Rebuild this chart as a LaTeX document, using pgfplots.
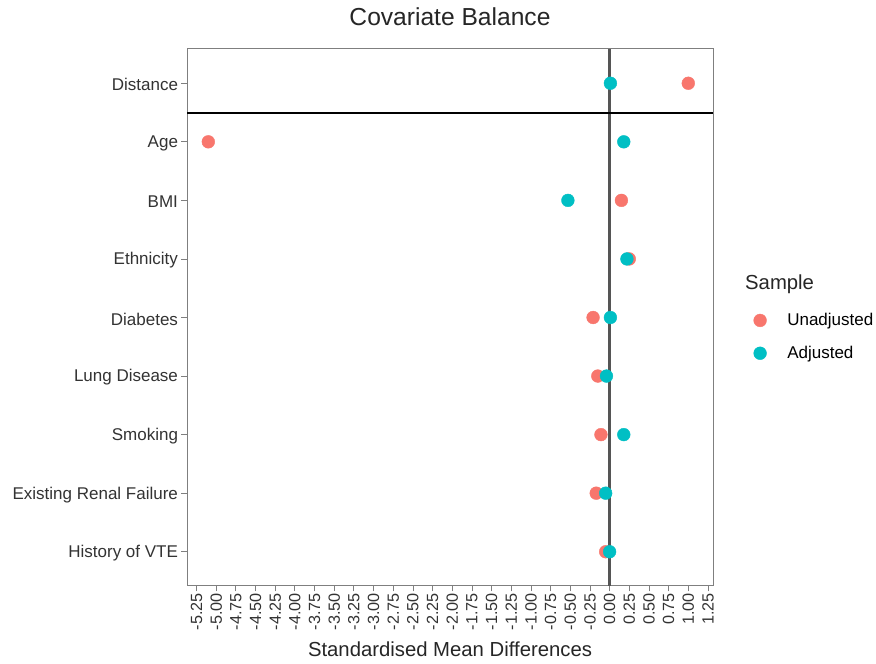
\documentclass[border=0pt]{standalone}
\usepackage{pgfplots}
\pgfplotsset{compat=1.18}
\usepackage{fontspec}
\setmainfont{Liberation Sans}
\definecolor{unadj}{HTML}{F8766D}
\definecolor{adj}{HTML}{00BFC4}
\definecolor{frame}{HTML}{7F7F7F}
\definecolor{zeroline}{HTML}{555555}
\begin{document}
\begin{tikzpicture}[x=1pt,y=1pt]
\path[fill=white,use as bounding box] (0,0) rectangle (876,664);
\begin{axis}[
  at={(187pt,78pt)}, anchor=south west,
  scale only axis, width=526pt, height=537pt,
  xmin=-5.371, xmax=1.314, ymin=0.415, ymax=9.585,
  xtick={-5.25,-5,-4.75,-4.5,-4.25,-4,-3.75,-3.5,-3.25,-3,-2.75,-2.5,-2.25,-2,-1.75,-1.5,-1.25,-1,-0.75,-0.5,-0.25,0,0.25,0.5,0.75,1,1.25},
  xticklabels={-5.25,-5.00,-4.75,-4.50,-4.25,-4.00,-3.75,-3.50,-3.25,-3.00,-2.75,-2.50,-2.25,-2.00,-1.75,-1.50,-1.25,-1.00,-0.75,-0.50,-0.25,0.00,0.25,0.50,0.75,1.00,1.25},
  ytick={1,...,9},
  yticklabels={History of VTE,Existing Renal Failure,Smoking,Lung Disease,Diabetes,Ethnicity,BMI,Age,Distance},
  xticklabel style={rotate=90, anchor=east, inner sep=1.5pt, font=\fontsize{16.2}{19}\selectfont, text=black!80},
  yticklabel style={font=\fontsize{17}{20}\selectfont, text=black!80, yshift=-1.5pt},
  tick align=outside, tick pos=left, major tick length=5.5pt,
  tick style={frame, line width=0.8pt},
  axis line style={frame, line width=1pt},
  title={Covariate Balance},
  title style={at={(axis description cs:0.5,1)}, anchor=base, yshift=17pt, font=\fontsize{24.6}{28}\selectfont, text=black!85},
  xlabel={Standardised Mean Differences},
  xlabel style={at={(axis description cs:0.5,0)}, anchor=base, yshift=-70.5pt, font=\fontsize{20.3}{24}\selectfont, text=black!85},
  legend style={draw=none, fill=none, at={(axis description cs:1.077,0.5115)}, anchor=north west,
     font=\fontsize{17}{20}\selectfont, row sep=15pt, inner sep=0pt},
  legend image code/.code={\path (0pt,0pt) (25pt,0pt); \draw[#1] plot coordinates {(0pt,0pt)};},
  legend cell align=left,
  clip=false,
]
\addplot[zeroline, line width=2.5pt, forget plot] coordinates {(0,0.415) (0,9.585)};
\addplot[black, line width=2pt, forget plot] coordinates {(-5.371,8.5) (1.314,8.5)};
\addplot[only marks, mark=*, mark size=6.4pt, mark options={draw=unadj, fill=unadj}] coordinates {
 (1.00,9) (-5.10,8) (0.15,7) (0.25,6) (-0.21,5) (-0.15,4) (-0.11,3) (-0.17,2) (-0.05,1)};
\addlegendentry{Unadjusted}
\addplot[only marks, mark=*, mark size=6.4pt, mark options={draw=adj, fill=adj}] coordinates {
 (0.01,9) (0.18,8) (-0.53,7) (0.22,6) (0.01,5) (-0.04,4) (0.18,3) (-0.05,2) (0.00,1)};
\addlegendentry{Adjusted}
\end{axis}
\node[anchor=base west, font=\fontsize{20.3}{24}\selectfont, text=black!85, inner sep=0pt] at (745,664-290) {Sample};
\end{tikzpicture}
\end{document}
